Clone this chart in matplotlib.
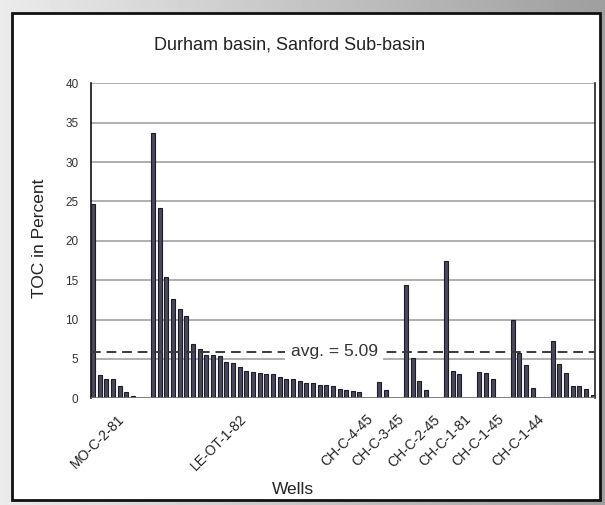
import numpy as np
import matplotlib.pyplot as plt
from matplotlib.patches import Rectangle

plt.rcParams['font.family'] = ['Liberation Sans', 'DejaVu Sans']

# TOC values (percent) per well
wells = ["MO-C-2-81", "LE-OT-1-82", "CH-C-4-45", "CH-C-3-45",
         "CH-C-2-45", "CH-C-1-81", "CH-C-1-45", "CH-C-1-44"]
mo_c_2_81 = [24.7, 3.0, 2.4, 2.4, 1.5, 0.8, 0.3]
le_ot_1_82 = [33.7, 24.2, 15.4, 12.6, 11.4, 10.5, 6.9, 6.3, 5.5, 5.5, 5.4,
              4.6, 4.5, 4.0, 3.5, 3.4, 3.2, 3.1, 3.1, 2.75, 2.45, 2.4, 2.2,
              2.0, 2.0, 1.75, 1.7, 1.5, 1.2, 1.1, 0.95, 0.85]
ch_c_4_45 = [2.1, 1.0]
ch_c_3_45 = [14.4, 5.1, 2.2, 1.1]
ch_c_2_45 = [17.4, 3.5, 3.05]
ch_c_1_81 = [3.3, 3.2, 2.45]
ch_c_1_45 = [9.9, 5.7, 4.2, 1.3]
ch_c_1_44 = [7.3, 4.4, 3.25, 1.5, 1.5, 1.15, 0.4]
groups = [mo_c_2_81, le_ot_1_82, ch_c_4_45, ch_c_3_45,
          ch_c_2_45, ch_c_1_81, ch_c_1_45, ch_c_1_44]
avg_label = "avg. = 5.09"
avg_line = 5.9   # where the dashed line sits in the picture

W, H = 605, 505
fig = plt.figure(figsize=(W / 100, H / 100), dpi=100)

# grey gradient backdrop and white panel
bg = fig.add_axes([0, 0, 1, 1], zorder=-2)
grad = np.linspace(0.92, 0.62, 200)[None, :]
bg.imshow(grad, cmap='gray', vmin=0, vmax=1, aspect='auto', extent=[0, 1, 0, 1])
bg.add_patch(Rectangle((12 / W, 5 / H), (600 - 12) / W, (492 - 5) / H,
                       facecolor='white', edgecolor='#111111', lw=2))
bg.set_xlim(0, 1)
bg.set_ylim(0, 1)
bg.axis('off')

ax = fig.add_axes([91 / W, (H - 398.3) / H, (595 - 91) / W, (398.3 - 83.3) / H])
ax.set_facecolor('none')

# lay the groups out with two empty slots between them
gap = 2
x, starts = 0, []
xs, vals = [], []
for g in groups:
    starts.append(x)
    xs.extend(range(x, x + len(g)))
    vals.extend(g)
    x += len(g) + gap

ax.bar(xs, vals, width=0.6, color='#4a4a5c', edgecolor='#1c1c26', lw=0.8, zorder=3)

ax.set_ylim(0, 40)
ax.set_xlim(-0.3, xs[-1] + 0.35)
ax.set_yticks(np.arange(0, 41, 5))
ax.yaxis.grid(True, color='#9a9a9a', lw=1.1, zorder=0)
ax.tick_params(axis='y', length=0, pad=9, labelsize=8.5, labelcolor='#333333')

offsets = [3.6, 13.0, -2.0, -1.4, -1.9, -2.3, -2.4, -2.4]
ax.set_xticks([s + o for s, o in zip(starts, offsets)])
ax.set_xticklabels(wells, rotation=45, ha='right', va='top',
                   rotation_mode='anchor', fontsize=10, color='#222222')
ax.tick_params(axis='x', length=0, pad=10)

for side in ['top', 'bottom']:
    ax.spines[side].set_visible(False)
ax.spines['left'].set_color('#111111')
ax.spines['left'].set_linewidth(1.2)
ax.spines['right'].set_color('#222222')
ax.spines['right'].set_linewidth(1.2)
ax.axhline(0, color='#777777', lw=1.2, zorder=4)

ax.axhline(avg_line, color='#3a3a3a', lw=1.4, ls=(0, (5, 3)), zorder=4)
ax.text(36.2, avg_line, avg_label, ha='center', va='center', fontsize=12.5,
        color='#333333', zorder=5,
        bbox=dict(facecolor='white', edgecolor='none', pad=4))

fig.text(289.5 / W, (H - 45) / H, "Durham basin, Sanford Sub-basin",
         ha='center', va='center', fontsize=13, color='#222222')
fig.text(40 / W, (H - 238) / H, "TOC in Percent", rotation=90,
         ha='center', va='center', fontsize=12.5, color='#222222')
fig.text(293 / W, (H - 489) / H, "Wells", ha='center', va='center',
         fontsize=12.5, color='#222222')

fig.savefig('out.png', dpi=100)
